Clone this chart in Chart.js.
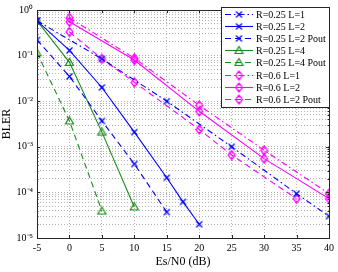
<!DOCTYPE html>
<html>
<head>
<meta charset="utf-8">
<script src="https://cdn.jsdelivr.net/npm/chart.js@4"></script>
<style>
  html, body { margin: 0; padding: 0; background: #fff; }
</style>
</head>
<body>
<canvas id="myChart" width="338" height="272"></canvas>
<script>
// data
const snrR025L1 = [-5, 5, 15, 25, 35, 40];
const blerR025L1 = [0.58, 0.085, 0.01, 0.001, 9.4e-5, 3e-5];
const snrR025L2 = [-5, 0, 5, 10, 15, 17.5, 20];
const blerR025L2 = [0.58, 0.13, 0.02, 2.1e-3, 2.1e-4, 6.2e-5, 2e-5];
const snrR025L2P = [-5, 0, 5, 10, 15];
const blerR025L2P = [0.22, 0.035, 3.7e-3, 4.2e-4, 3.7e-5];
const snrR025L4 = [-5, 0, 5, 10];
const blerR025L4 = [0.58, 0.071, 2.1e-3, 4.8e-5];
const snrR025L4P = [-5, 0, 5];
const blerR025L4P = [0.115, 3.7e-3, 3.9e-5];
const snrR06L1 = [0, 10, 20, 30, 40];
const blerR06L1 = [0.67, 0.088, 8.1e-3, 8.4e-4, 9.4e-5];
const snrR06L2 = [0, 10, 20, 30, 40];
const blerR06L2 = [0.55, 0.08, 6e-3, 5.5e-4, 7.3e-5];
const snrR06L2P = [0, 5, 10, 20, 25, 35];
const blerR06L2P = [0.33, 0.085, 0.026, 2.4e-3, 6.6e-4, 7.3e-5];

const labels = ["R=0.25 L=1", "R=0.25 L=2", "R=0.25 L=2 Pout", "R=0.25 L=4",
  "R=0.25 L=4 Pout", "R=0.6 L=1", "R=0.6 L=2", "R=0.6 L=2 Pout"];
const xTicks = [-5, 0, 5, 10, 15, 20, 25, 30, 35, 40];

const BLUE = "#0000ff";
const GREEN = "#1a8c1a";
const MAGENTA = "#ff00ff";
const FONT = "'Liberation Serif', 'Times New Roman', serif";

function pts(xs, ys) {
  return xs.map((x, i) => ({ x: x, y: ys[i] }));
}

// marker images
function marker(kind, color) {
  const c = document.createElement("canvas");
  c.width = 11; c.height = 11;
  const g = c.getContext("2d");
  g.strokeStyle = color;
  g.lineWidth = 1.2;
  g.beginPath();
  if (kind === "x") {
    g.moveTo(2.5, 2.5); g.lineTo(8.5, 8.5);
    g.moveTo(8.5, 2.5); g.lineTo(2.5, 8.5);
  } else if (kind === "tri") {
    g.moveTo(5.5, 1.5); g.lineTo(9.5, 8.5); g.lineTo(1.5, 8.5); g.closePath();
  } else {
    g.arc(5.5, 5.5, 2.8, 0, Math.PI * 2);
    g.moveTo(5.5, 1); g.lineTo(9, 5.5); g.lineTo(5.5, 10); g.lineTo(2, 5.5); g.closePath();
  }
  g.stroke();
  return c;
}
const mX = marker("x", BLUE);
const mTri = marker("tri", GREEN);
const mDia = marker("dia", MAGENTA);

const DASHDOT = [6, 3, 1.5, 3];
const DASH = [6, 4];

function ds(i, xs, ys, color, dash, mk) {
  return {
    label: labels[i],
    data: pts(xs, ys),
    borderColor: color,
    backgroundColor: color,
    borderWidth: 1.1,
    borderDash: dash,
    pointStyle: mk,
    pointRadius: 4,
    tension: 0,
  };
}

const datasets = [
  ds(0, snrR025L1, blerR025L1, BLUE, DASHDOT, mX),
  ds(1, snrR025L2, blerR025L2, BLUE, [], mX),
  ds(2, snrR025L2P, blerR025L2P, BLUE, DASH, mX),
  ds(3, snrR025L4, blerR025L4, GREEN, [], mTri),
  ds(4, snrR025L4P, blerR025L4P, GREEN, DASH, mTri),
  ds(5, snrR06L1, blerR06L1, MAGENTA, DASHDOT, mDia),
  ds(6, snrR06L2, blerR06L2, MAGENTA, [], mDia),
  ds(7, snrR06L2P, blerR06L2P, MAGENTA, DASH, mDia),
];

const SUP = { "-": "\u207B", "0": "\u2070", "1": "\u00B9", "2": "\u00B2", "3": "\u00B3", "4": "\u2074", "5": "\u2075" };
function isDecade(v) {
  const l = Math.log10(v);
  return Math.abs(l - Math.round(l)) < 1e-6;
}

// frame, inside tick marks and legend box
const framePlugin = {
  id: "frame",
  afterDatasetsDraw(chart) {
    const ctx = chart.ctx;
    const a = chart.chartArea;
    const xs = chart.scales.x, ys = chart.scales.y;
    ctx.save();
    ctx.strokeStyle = "#262626";
    ctx.lineWidth = 1;
    ctx.setLineDash([]);
    ctx.beginPath();
    xs.ticks.forEach((t) => {
      const px = Math.round(xs.getPixelForValue(t.value)) + 0.5;
      ctx.moveTo(px, a.bottom); ctx.lineTo(px, a.bottom - 3);
      ctx.moveTo(px, a.top); ctx.lineTo(px, a.top + 3);
    });
    ys.ticks.forEach((t) => {
      const py = Math.round(ys.getPixelForValue(t.value)) + 0.5;
      const len = isDecade(t.value) ? 3 : 1.5;
      ctx.moveTo(a.left, py); ctx.lineTo(a.left + len, py);
      ctx.moveTo(a.right, py); ctx.lineTo(a.right - len, py);
    });
    ctx.stroke();
    ctx.strokeRect(Math.round(a.left) + 0.5, Math.round(a.top) + 0.5,
      Math.round(a.right - a.left), Math.round(a.bottom - a.top));

    // legend
    const lx = 221, ly = 7, lw = Math.round(a.right) - lx, lh = 100;
    ctx.fillStyle = "#fff";
    ctx.fillRect(lx, ly, lw, lh);
    ctx.strokeRect(lx + 0.5, ly + 0.5, lw, lh);
    ctx.font = "10px " + FONT;
    ctx.textBaseline = "middle";
    ctx.textAlign = "left";
    chart.data.datasets.forEach((d, i) => {
      const y = Math.round(14 + i * 12.1) + 0.5;
      ctx.strokeStyle = d.borderColor;
      ctx.lineWidth = 1.1;
      ctx.setLineDash(d.borderDash);
      ctx.beginPath();
      ctx.moveTo(225, y); ctx.lineTo(253, y);
      ctx.stroke();
      ctx.setLineDash([]);
      ctx.drawImage(d.pointStyle, 239 - 5.5, y - 5.5);
      ctx.fillStyle = "#000";
      ctx.fillText(d.label, 256, y + 0.5);
    });
    ctx.restore();
  },
};

new Chart("myChart", {
  type: "line",
  data: { datasets: datasets },
  plugins: [framePlugin],
  options: {
    responsive: false,
    animation: false,
    devicePixelRatio: 1,
    layout: { padding: { top: 6, right: 8, left: 0, bottom: 0 } },
    plugins: { legend: { display: false }, tooltip: { enabled: false } },
    scales: {
      x: {
        type: "linear",
        min: -5,
        max: 40,
        afterBuildTicks: (scale) => { scale.ticks = xTicks.map((v) => ({ value: v })); },
        afterFit: (scale) => { scale.height = 34; },
        ticks: { color: "#000", font: { family: FONT, size: 10 }, padding: 4, maxRotation: 0 },
        grid: { color: "#b4b4b4", lineWidth: 1, drawTicks: false },
        border: { display: false, dash: [1, 2] },
        title: { display: true, text: "Es/N0 (dB)", color: "#000", font: { family: FONT, size: 12 }, padding: { top: 0, bottom: 3 } },
      },
      y: {
        type: "logarithmic",
        min: 1e-5,
        max: 1,
        afterBuildTicks: (scale) => {
          const t = [];
          for (let e = -5; e <= 0; e++) {
            for (let m = 1; m <= 9; m++) {
              const v = Number((m * Math.pow(10, e)).toPrecision(3));
              if (v <= 1) t.push({ value: v });
            }
          }
          scale.ticks = t;
        },
        afterFit: (scale) => { scale.width = 37; },
        ticks: {
          autoSkip: false,
          color: "#000",
          font: { family: FONT, size: 10 },
          padding: 4,
          callback: (v) => {
            if (!isDecade(v)) return "";
            const e = String(Math.round(Math.log10(v)));
            return "10" + e.split("").map((ch) => SUP[ch]).join("");
          },
        },
        grid: { color: "#b4b4b4", lineWidth: 1, drawTicks: false },
        border: { display: false, dash: [1, 2] },
        title: { display: true, text: "BLER", color: "#000", font: { family: FONT, size: 12 }, padding: { top: 0, bottom: 2 } },
      },
    },
  },
});
</script>
</body>
</html>
